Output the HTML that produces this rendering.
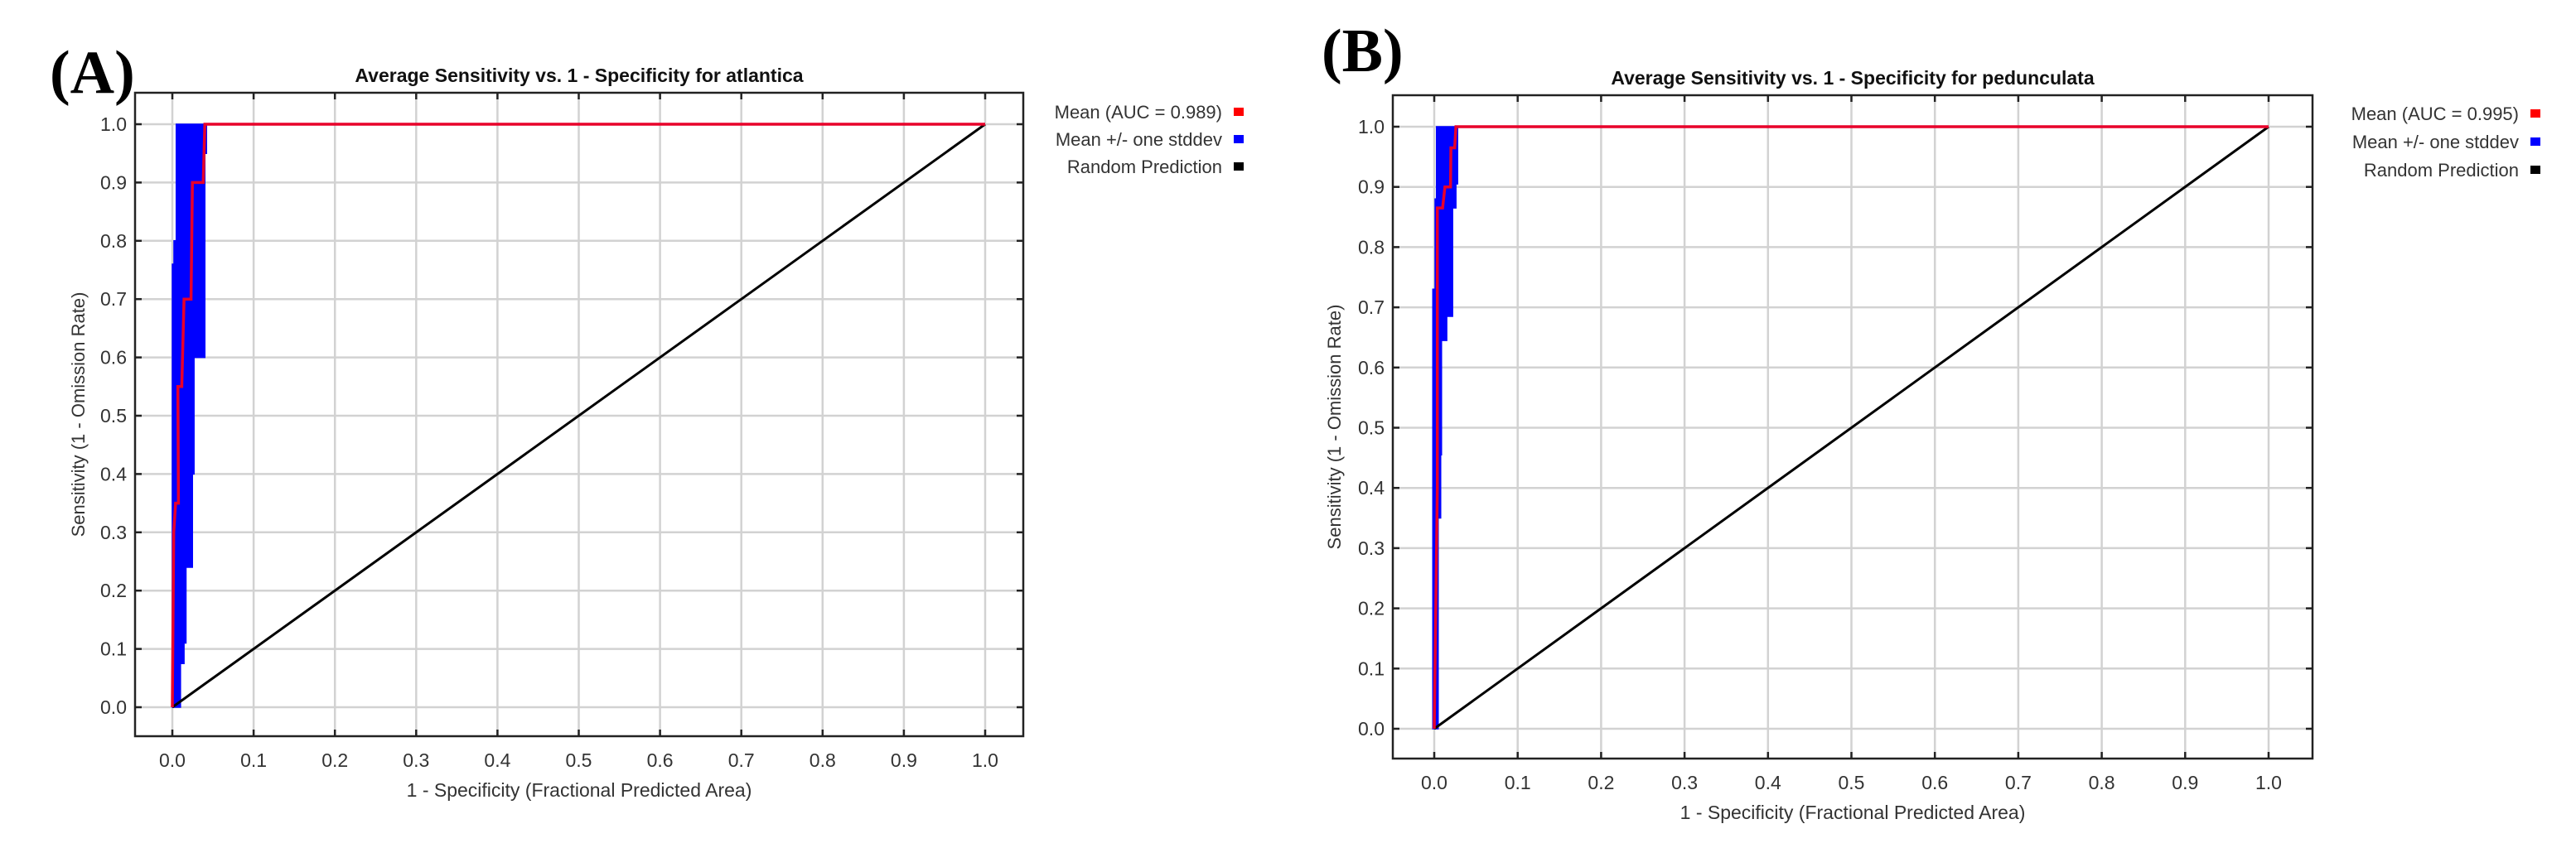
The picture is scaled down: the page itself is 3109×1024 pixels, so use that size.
<!DOCTYPE html>
<html><head><meta charset="utf-8">
<style>
html,body{margin:0;padding:0;background:#fff;}
svg{display:block;font-family:"Liberation Sans",Arial,sans-serif;}
</style></head>
<body>
<svg id="fig" width="3109" height="1024" viewBox="0 0 3109 1024" xmlns="http://www.w3.org/2000/svg">
<rect width="3109" height="1024" fill="#fff"/>
<text x="60" y="112" font-family="Liberation Serif, serif" font-weight="bold" font-size="74">(A)</text>
<text x="1595" y="86" font-family="Liberation Serif, serif" font-weight="bold" font-size="74">(B)</text>
<g id="panelA"></g>
<g id="panelB"></g>
</svg>
<script>
// ---- shared tick data ----
const xTicks = [0,0.1,0.2,0.3,0.4,0.5,0.6,0.7,0.8,0.9,1.0];
const yTicks = [0,0.1,0.2,0.3,0.4,0.5,0.6,0.7,0.8,0.9,1.0];
const tickLabels = ["0.0","0.1","0.2","0.3","0.4","0.5","0.6","0.7","0.8","0.9","1.0"];
const legendLabelsA = ["Mean (AUC = 0.989)","Mean +/- one stddev","Random Prediction"];
const legendLabelsB = ["Mean (AUC = 0.995)","Mean +/- one stddev","Random Prediction"];
const legendColors = ["#ff0000","#0000ff","#000000"];
const randomX = [0,1];
const randomY = [0,1];

// ---- panel A data ----
const meanAX = [0,0.0017,0.004,0.004,0.0075,0.0068,0.0116,0.0144,0.023,0.0247,0.038,0.040,1.0];
const meanAY = [0,0.30,0.35,0.35,0.35,0.55,0.55,0.70,0.70,0.90,0.90,1.0,1.0];
const bandAUpperX = [0,0,0.002,0.002,0.0048,0.0048];
const bandAUpperY = [0,0.76,0.76,0.80,0.80,1.0];
const bandALowerX = [0.042,0.042,0.040,0.040,0.0267,0.0267,0.0247,0.0247,0.0168,0.0168,0.0144,0.0144,0.010,0.010];
const bandALowerY = [1.0,0.95,0.95,0.60,0.60,0.40,0.40,0.24,0.24,0.11,0.11,0.075,0.075,0];

// ---- panel B data ----
const meanBX = [0,0.0037,0.0037,0.010,0.0128,0.0195,0.020,0.0245,0.026,1.0];
const meanBY = [0,0.40,0.865,0.865,0.90,0.90,0.965,0.965,1.0,1.0];
const bandBUpperX = [-0.0017,-0.0017,0.001,0.001,0.0027,0.0027];
const bandBUpperY = [0,0.73,0.73,0.88,0.88,1.0];
const bandBLowerX = [0.028,0.028,0.026,0.026,0.022,0.022,0.015,0.015,0.0087,0.0087,0.0077,0.0077,0.0047,0.0047];
const bandBLowerY = [1.0,0.905,0.905,0.865,0.865,0.685,0.685,0.645,0.645,0.455,0.455,0.35,0.35,0];

const NS = "http://www.w3.org/2000/svg";
function mk(parent, tag, attrs){
  const el = document.createElementNS(NS, tag);
  for (const k in attrs) el.setAttribute(k, attrs[k]);
  parent.appendChild(el);
  return el;
}

function drawPanel(g, cfg){
  const sx = v => cfg.x0 + (cfg.x1 - cfg.x0) * v;
  const sy = v => cfg.y0 - (cfg.y0 - cfg.y1) * v;
  // grid
  xTicks.forEach((t,i)=>{
    const l = mk(g,'line',{x1:sx(t),x2:sx(t),y1:cfg.top,y2:cfg.bottom,stroke:'#d2d2d2','stroke-width':2.5});
    
    
  });
  yTicks.forEach((t,i)=>{
    const l = mk(g,'line',{x1:cfg.left,x2:cfg.right,y1:sy(t),y2:sy(t),stroke:'#d2d2d2','stroke-width':2.5});
    
    
  });
  // band polygon
  let pts = [];
  for (let i=0;i<cfg.upX.length;i++) pts.push(sx(cfg.upX[i])+','+sy(cfg.upY[i]));
  for (let i=0;i<cfg.loX.length;i++) pts.push(sx(cfg.loX[i])+','+sy(cfg.loY[i]));
  const band = mk(g,'polygon',{points:pts.join(' '),fill:'#0000ff',stroke:'#0000ff','stroke-width':1.5});
  
  
  // random line
  const rl = mk(g,'polyline',{points:randomX.map((v,i)=>sx(v)+','+sy(randomY[i])).join(' '),fill:'none',stroke:'#000','stroke-width':3});
  
  
  // mean line
  const ml = mk(g,'polyline',{points:cfg.mX.map((v,i)=>sx(v)+','+sy(cfg.mY[i])).join(' '),fill:'none',stroke:'#e8002a','stroke-width':3.5,'stroke-linejoin':'miter'});
  
  
  // frame
  const fr = mk(g,'rect',{x:cfg.left,y:cfg.top,width:cfg.right-cfg.left,height:cfg.bottom-cfg.top,fill:'none',stroke:'#222','stroke-width':2.5});
  
  
  // ticks + labels
  xTicks.forEach((t,i)=>{
    mk(g,'line',{x1:sx(t),x2:sx(t),y1:cfg.bottom,y2:cfg.bottom-8,stroke:'#222','stroke-width':2.5});
    mk(g,'line',{x1:sx(t),x2:sx(t),y1:cfg.top,y2:cfg.top+8,stroke:'#222','stroke-width':2.5});
    const tx = mk(g,'text',{x:sx(t),y:cfg.bottom+37,'text-anchor':'middle','font-size':23,fill:'#333'});
    tx.textContent = tickLabels[i];
    
    
  });
  yTicks.forEach((t,i)=>{
    mk(g,'line',{x1:cfg.left,x2:cfg.left+8,y1:sy(t),y2:sy(t),stroke:'#222','stroke-width':2.5});
    mk(g,'line',{x1:cfg.right,x2:cfg.right-8,y1:sy(t),y2:sy(t),stroke:'#222','stroke-width':2.5});
    const ty = mk(g,'text',{x:cfg.left-10,y:sy(t)+8,'text-anchor':'end','font-size':23,fill:'#333'});
    ty.textContent = tickLabels[i];
    
    
  });
  // titles
  const ti = mk(g,'text',{x:(cfg.left+cfg.right)/2,y:cfg.top-13,'text-anchor':'middle','font-size':23,'font-weight':'bold',fill:'#111'});
  ti.textContent = cfg.title;
  
  
  const xt = mk(g,'text',{x:(cfg.left+cfg.right)/2,y:cfg.bottom+73,'text-anchor':'middle','font-size':23,fill:'#333'});
  xt.textContent = '1 - Specificity (Fractional Predicted Area)';
  
  
  const yc = (cfg.top+cfg.bottom)/2;
  const yt = mk(g,'text',{x:cfg.ytX,y:yc,'text-anchor':'middle','font-size':22,fill:'#333',transform:'rotate(-90 '+cfg.ytX+' '+yc+')'});
  yt.textContent = 'Sensitivity (1 - Omission Rate)';
  
  
  // legend
  cfg.legend.forEach((lab,i)=>{
    const ly = cfg.legY + i*cfg.legStep;
    const lt = mk(g,'text',{x:cfg.legX,y:ly+8,'text-anchor':'end','font-size':22,fill:'#333'});
    lt.textContent = lab;
    
    
    const sw = mk(g,'rect',{x:cfg.legX+14,y:ly-5,width:12,height:10,fill:legendColors[i]});
    
    
  });
}

drawPanel(document.getElementById('panelA'),{
  left:163,right:1235,top:112,bottom:889,
  x0:208,x1:1189,y0:854,y1:150,
  mX:meanAX,mY:meanAY,upX:bandAUpperX,upY:bandAUpperY,loX:bandALowerX,loY:bandALowerY,
  title:'Average Sensitivity vs. 1 - Specificity for atlantica',
  ytX:102,legend:legendLabelsA,legX:1475,legY:135,legStep:33
});
drawPanel(document.getElementById('panelB'),{
  left:1681,right:2791,top:115,bottom:916,
  x0:1731,x1:2738,y0:880,y1:153,
  mX:meanBX,mY:meanBY,upX:bandBUpperX,upY:bandBUpperY,loX:bandBLowerX,loY:bandBLowerY,
  title:'Average Sensitivity vs. 1 - Specificity for pedunculata',
  ytX:1618,legend:legendLabelsB,legX:3040,legY:137,legStep:34
});
</script>
</body></html>
